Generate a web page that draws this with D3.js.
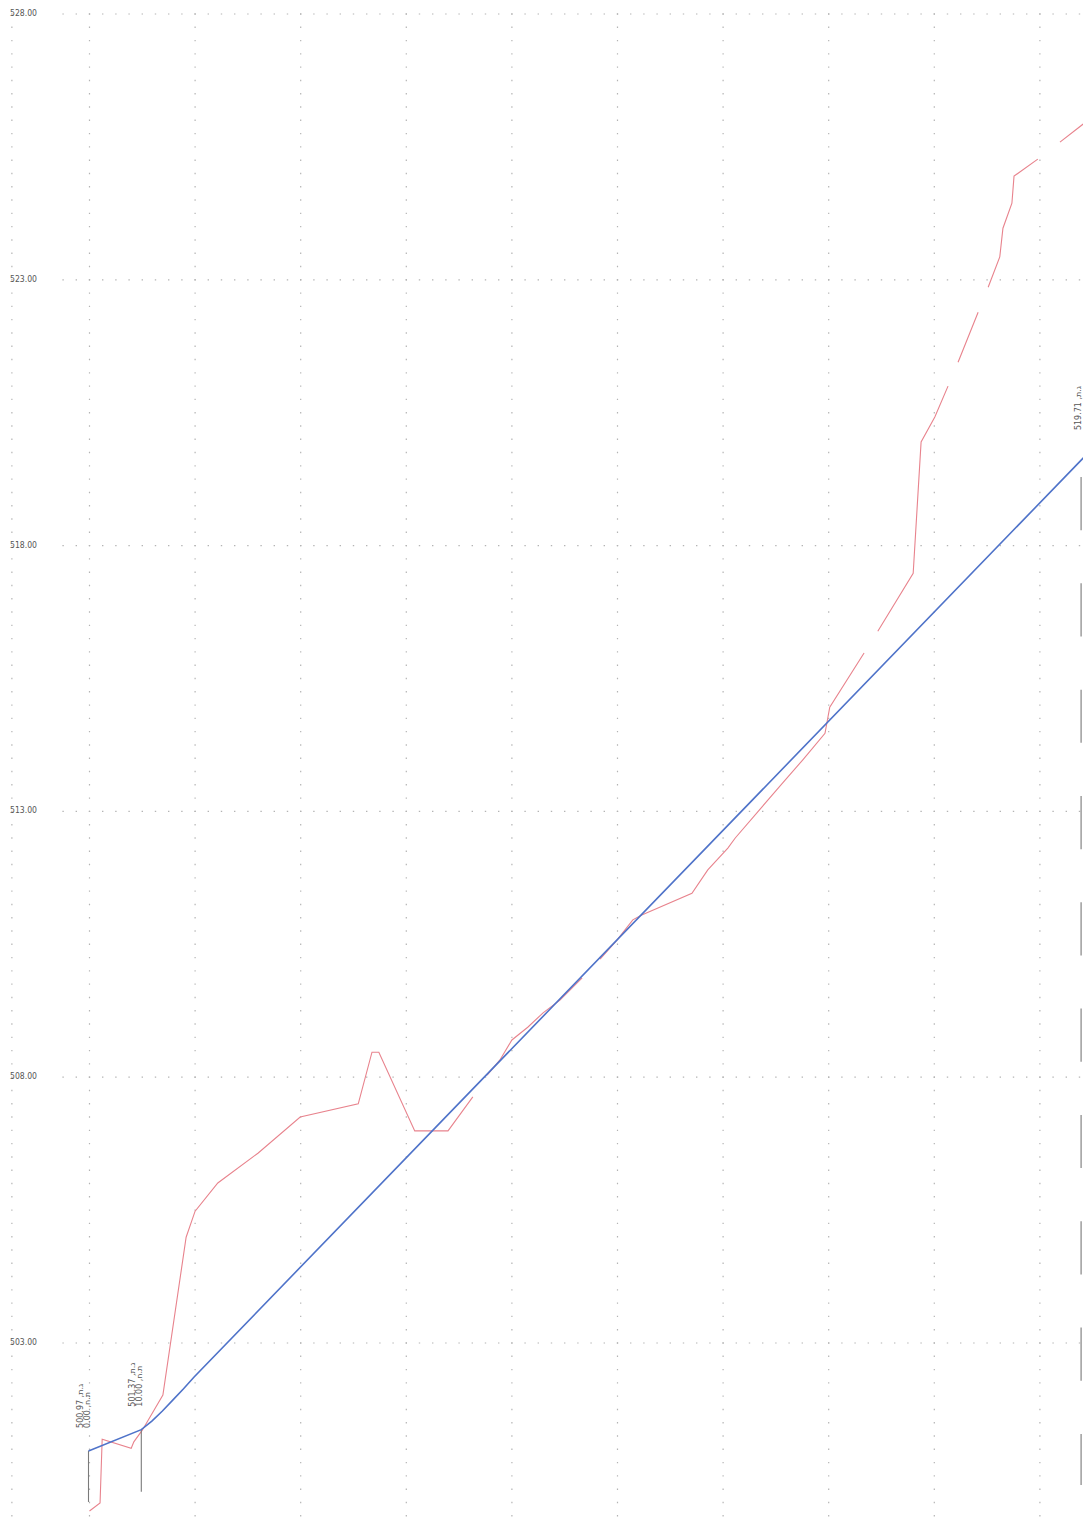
<!DOCTYPE html>
<html>
<head>
<meta charset="utf-8">
<script src="https://cdn.jsdelivr.net/npm/d3@7"></script>
<style>
  body { margin: 0; background: #fff; }
  svg { display: block; }
  .lbl { font-family: "DejaVu Sans", sans-serif; fill: #555; }
</style>
</head>
<body>
<div id="chart"></div>
<script>
// grid values
const stationTicks = [0, 20, 40, 60, 80, 100, 120, 140, 160, 180];
const frameStations = [-14.7];
const elevTicks = [503, 508, 513, 518, 523, 528];

// design profile (blue)
const designStation = [0, 10, 12, 14, 16, 18, 20, 189.3];
const designElev = [500.97, 501.37, 501.53, 501.72, 501.93, 502.14, 502.36, 519.74];

// natural ground (red), null = gap
const groundStation = [0, 2.0, 2.4, 7.9, 8.4, 10.0, 13.9, 18.3, 20.0, 24.3, 31.9, 39.9, 50.9, 53.5, 54.8, 61.6, 67.9, 72.6, null,
  75.3, 77.7, 80.0, 83.0, 85.9, 89.1, 93.3, null,
  96.7, 99.9, 102.9, 104.6, 114.1, 117.1, 120.9, 122.3, 130.8, 135.1, 139.3, 140.2, 146.7, null,
  149.3, 156.0, 157.5, 160.1, 162.6, null,
  164.5, 168.3, null,
  170.2, 172.4, 173.0, 174.7, 175.1, 179.6, null,
  183.8, 188.2, 189.5];
const groundElev = [499.84, 499.99, 501.19, 501.02, 501.14, 501.36, 502.02, 504.99, 505.48, 506.01, 506.57, 507.25, 507.50, 508.47, 508.47, 506.99, 506.99, 507.63, null,
  508.04, 508.32, 508.70, 508.94, 509.21, 509.45, 509.87, null,
  510.22, 510.58, 510.96, 511.05, 511.46, 511.90, 512.31, 512.50, 513.48, 513.97, 514.47, 514.96, 515.98, null,
  516.39, 517.48, 519.95, 520.42, 521.00, null,
  521.45, 522.39, null,
  522.86, 523.43, 523.97, 524.44, 524.95, 525.27, null,
  525.59, 525.93, 526.05];

// station markers
const markStation = [0, 10];
const markBottom = [500.01, 500.20];
const markElevText = ["500.97", "501.37"];
const markStationText = ["0.00", "10.00"];
const endStation = 189.3;
const endElevText = "519.71";
const endDash = { station: 187.8, top: 519.29, bottom: 500.33 };

const width = 1083, height = 1521;

const svg = d3.select("#chart").append("svg")
  .attr("width", width)
  .attr("height", height);

const x = d3.scaleLinear().domain([0, 189.3]).range([89.5, 89.5 + 189.3 * 5.28]);
const y = d3.scaleLinear().domain([503, 528]).range([1343, 14]);

const pxPerM = y(527) - y(528);
const dotV = 13.29, dotH = x(2.5) - x(0);

// vertical dotted grid
svg.append("g").selectAll("line")
  .data(frameStations.concat(stationTicks))
  .enter().append("line")
  .attr("x1", d => x(d)).attr("x2", d => x(d))
  .attr("y1", y(528) - 0.7).attr("y2", height)
  .attr("stroke", "#b4b4b4")
  .attr("stroke-width", 1.2)
  .attr("stroke-dasharray", `1.4 ${dotV - 1.4}`);

// horizontal dotted grid
svg.append("g").selectAll("line")
  .data(elevTicks)
  .enter().append("line")
  .attr("x1", x(-5) - 0.7).attr("x2", width)
  .attr("y1", d => y(d)).attr("y2", d => y(d))
  .attr("stroke", "#b4b4b4")
  .attr("stroke-width", 1.2)
  .attr("stroke-dasharray", `1.4 ${dotH - 1.4}`);

// elevation labels
svg.append("g").selectAll("text")
  .data(elevTicks)
  .enter().append("text")
  .attr("class", "lbl")
  .attr("x", 10)
  .attr("y", d => y(d) + 2)
  .attr("font-size", 8.5)
  .attr("textLength", 27)
  .attr("lengthAdjust", "spacingAndGlyphs")
  .text(d => d3.format(".2f")(d));

// ground line
const ground = groundStation.map((s, i) => ({ s: s, e: groundElev[i] }));
svg.append("path")
  .datum(ground)
  .attr("fill", "none")
  .attr("stroke", "#e8838d")
  .attr("stroke-width", 1.1)
  .attr("d", d3.line().defined(d => d.s !== null && d.e !== null).x(d => x(d.s)).y(d => y(d.e)));

// station verticals
svg.append("g").selectAll("line")
  .data(markStation)
  .enter().append("line")
  .attr("x1", d => x(d) - 1).attr("x2", d => x(d) - 1)
  .attr("y1", d => y(designElev[designStation.indexOf(d)]))
  .attr("y2", (d, i) => y(markBottom[i]))
  .attr("stroke", "#7a7a7a")
  .attr("stroke-width", 1.1);

svg.append("line")
  .attr("x1", x(endDash.station)).attr("x2", x(endDash.station))
  .attr("y1", y(endDash.top)).attr("y2", y(endDash.bottom))
  .attr("stroke", "#7a7a7a")
  .attr("stroke-width", 1.1)
  .attr("stroke-dasharray", `${pxPerM} ${pxPerM}`);

// design line
const design = designStation.map((s, i) => ({ s: s, e: designElev[i] }));
svg.append("path")
  .datum(design)
  .attr("fill", "none")
  .attr("stroke", "#4f73c9")
  .attr("stroke-width", 1.6)
  .attr("d", d3.line().x(d => x(d.s) - 1).y(d => y(d.e)));

// rotated station labels
function stationLabel(s, lines, bx0) {
  const yd = y(designElev[d3.bisectLeft(designStation, s)]);
  const g = svg.append("g");
  lines.forEach((t, i) => {
    const bx = (bx0 !== undefined ? bx0 : x(s) - 7) + i * 7;
    g.append("text")
      .attr("class", "lbl")
      .attr("font-size", 8)
      .attr("transform", `translate(${bx},${yd - 23}) rotate(-90)`)
      .style("unicode-bidi", "bidi-override")
      .style("direction", "ltr")
      .text(t);
  });
}

markStation.forEach((s, i) => {
  stationLabel(s, [markElevText[i] + " ,ת.ג", markStationText[i] + " ,ח.ת"]);
});
stationLabel(endStation, [endElevText + " ,ת.ג"], width - 2);
</script>
</body>
</html>
